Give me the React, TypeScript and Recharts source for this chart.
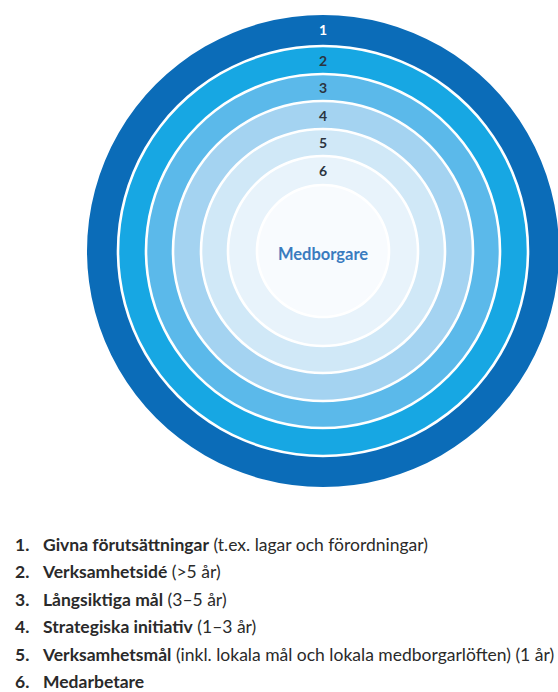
import { PieChart, Pie, Cell } from "recharts";

// rings, outermost first
const levels = ["1", "2", "3", "4", "5", "6"];
const levelColors = ["#0b6cb8", "#17a7e3", "#5bb9ea", "#a4d3f1", "#d0e8f7", "#e8f3fb"];
const levelTextColors = ["#ffffff", "#2b3440", "#2b3440", "#2b3440", "#2b3440", "#2b3440"];
const centerLabel = "Medborgare";

const legendTitles = [
  "Givna förutsättningar",
  "Verksamhetsidé",
  "Långsiktiga mål",
  "Strategiska initiativ",
  "Verksamhetsmål",
  "Medarbetare",
];
const legendNotes = [
  "(t.ex. lagar och förordningar)",
  "(>5 år)",
  "(3–5 år)",
  "(1–3 år)",
  "(inkl. lokala mål och lokala medborgarlöften) (1 år)",
  "",
];

// ring edges in px, outer to inner
const edges = [236, 205, 177, 150, 122, 95, 66];
const gap = 1.3;
const CX = 323;
const CY = 251;

function RingLabel(props: any) {
  const { cx, cy, innerRadius, outerRadius, index, fill } = props;
  const r = (innerRadius + outerRadius) / 2;
  return (
    <text
      x={cx}
      y={cy - r}
      textAnchor="middle"
      dominantBaseline="central"
      fill={fill}
      fontSize={14}
      fontWeight={700}
      fontFamily="Lato, sans-serif"
    >
      {levels[index]}
    </text>
  );
}

function CenterLabel(props: any) {
  const { cx, cy } = props;
  return (
    <text
      x={cx}
      y={cy + 3}
      textAnchor="middle"
      dominantBaseline="central"
      fill="#3a7bbf"
      fontSize={16.5}
      fontWeight={700}
      fontFamily="Lato, sans-serif"
    >
      {centerLabel}
    </text>
  );
}

export default function App() {
  return (
    <div
      style={{
        position: "absolute",
        left: 0,
        top: 0,
        width: 558,
        height: 692,
        background: "#fff",
        fontFamily: "Lato, sans-serif",
        overflow: "hidden",
      }}
    >
      <PieChart width={558} height={500} margin={{ top: 0, right: 0, bottom: 0, left: 0 }}>
        {levels.map((lv, i) => (
          <Pie
            key={lv}
            data={[{ name: lv, value: 1 }]}
            dataKey="value"
            cx={CX}
            cy={CY}
            startAngle={270}
            endAngle={-90}
            outerRadius={edges[i] - (i === 0 ? 0 : gap)}
            innerRadius={edges[i + 1] + gap}
            stroke="none"
            isAnimationActive={false}
            labelLine={false}
            label={(p: any) => <RingLabel {...p} index={i} fill={levelTextColors[i]} />}
          >
            <Cell fill={levelColors[i]} />
          </Pie>
        ))}
        <Pie
          data={[{ name: centerLabel, value: 1 }]}
          dataKey="value"
          cx={CX}
          cy={CY}
          startAngle={270}
          endAngle={-90}
          outerRadius={edges[6] - gap}
          innerRadius={0}
          stroke="none"
          isAnimationActive={false}
          labelLine={false}
          label={(p: any) => <CenterLabel {...p} />}
        >
          <Cell fill="#f8fbfe" />
        </Pie>
      </PieChart>
      <div style={{ position: "absolute", left: 0, top: 532, width: 558 }}>
        {legendTitles.map((t, i) => (
          <div
            key={t}
            style={{
              position: "relative",
              height: 27.4,
              fontSize: 17.5,
              lineHeight: "26px",
              color: "#2a2a2a",
              whiteSpace: "nowrap",
            }}
          >
            <span style={{ position: "absolute", left: 15, fontWeight: 700 }}>{i + 1}.</span>
            <span style={{ position: "absolute", left: 43 }}>
              <b>{t}</b>
              {legendNotes[i] ? " " + legendNotes[i] : ""}
            </span>
          </div>
        ))}
      </div>
    </div>
  );
}
